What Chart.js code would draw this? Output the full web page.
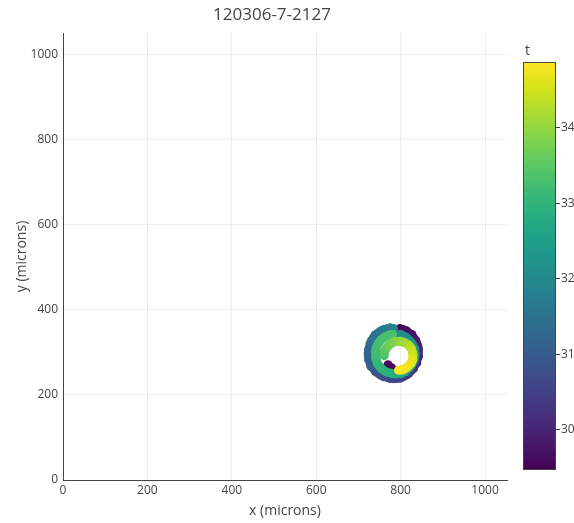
<!DOCTYPE html>
<html>
<head>
<meta charset="utf-8">
<script src="https://cdn.jsdelivr.net/npm/chart.js@4.4.0/dist/chart.umd.min.js"></script>
<style>
  html, body { margin: 0; padding: 0; background: #fff; }
</style>
</head>
<body>
<canvas id="chart" width="574" height="523"></canvas>
<script>
const titleText = '120306-7-2127';

// cell track: x, y in microns, t = time
const xs = [
  774, 779, 770,
  798.5, 806, 813.5, 819.5, 826.8, 830.6, 835.8, 838.4, 841, 842.5, 842, 842.5,
  839, 838.4, 833.2, 830.6, 824.7, 819.5, 813, 806, 798.8, 790.9, 783, 775.1,
  767.7, 760, 753, 746.5, 739.9, 735.4, 729.3, 727.6, 724.1, 723.5, 723, 723.5,
  726, 727.6, 731, 735.4, 739.9, 746.5, 753, 760, 767.7, 775.1, 783,
  787, 793.2, 799.4, 805, 810.5, 815.6, 819.5, 824.3, 827.7, 830.4, 833.4, 833.6,
  835, 833.6, 832.4, 830.4, 826.8, 824.3, 820.2, 815.6, 811, 805, 799.4, 793.2,
  787, 780.8, 775.1, 769, 763.5, 758.4, 753.1, 749.7, 745.4, 743.6, 741.6, 740.4, 741,
  740.4, 741.6, 743.6, 746.3, 749.7, 753.8, 758.4, 763.5, 769, 774.8, 780.8,
  761, 761.3, 761.2, 763.6, 765.6, 768, 771.7, 774.3, 778, 782, 785.9, 790.6,
  795, 799.4, 803.5, 808, 812, 815.7, 819.7, 822, 825.3, 826.4, 827.8, 828.7,
  829, 828.7, 828.8, 826.4, 825.3, 822, 819, 815.7, 812, 808, 804.1, 799.4, 795
];
const ys = [
  266, 263, 271,
  356, 353.4, 350.8, 345.6, 341.8, 334.5, 328.5, 321, 313.5, 305.9, 298, 290.1,
  283, 275, 269, 261.5, 256.3, 250.4, 246, 242.6, 239.1, 238.5, 238, 238.5,
  241, 242.6, 246, 250.4, 254.9, 261.5, 267, 275, 282.2, 290.1, 298, 305.9,
  313.3, 321, 328, 334.5, 341.1, 345.6, 350, 353.4, 355, 357.5, 356,
  343, 342.6, 342.4, 339.4, 336.7, 333.3, 328.5, 324.6, 319.5, 314, 308.4, 302.2,
  296, 289.8, 283.8, 278, 273, 267.4, 262.8, 258.7, 254.4, 252.6, 249.6, 249.4,
  249, 249.4, 251.6, 252.6, 255.3, 258.7, 262.1, 267.4, 272, 278, 283.8, 289.8, 296,
  302.2, 308.2, 314, 319.5, 324.6, 329.2, 333.3, 336.7, 339.4, 341.4, 342.6,
  292, 296.4, 301.1, 305, 309, 312.7, 315.3, 319, 321.4, 323.4, 325.8, 325.7,
  326, 325.7, 323.9, 323.4, 321.4, 319, 316.7, 312.7, 309.5, 305, 300.8, 296.4,
  292, 287.6, 282.9, 279, 274.5, 271.3, 268, 265, 262.6, 260.6, 258.2, 258.3, 258
];
const ts = [
  29.46, 29.55, 29.6,
  29.5, 29.55, 29.6, 29.65, 29.7, 29.75, 29.8, 29.85, 29.9, 29.95, 30.0, 30.05,
  30.1, 30.15, 30.2, 30.25, 30.3, 30.35, 30.4, 30.45, 30.5, 30.55, 30.6, 30.65,
  30.7, 30.75, 30.8, 30.85, 30.9, 30.95, 31.0, 31.05, 31.1, 31.15, 31.2, 31.25,
  31.3, 31.35, 31.4, 31.45, 31.5, 31.55, 31.6, 31.65, 31.7, 31.75, 31.8,
  31.9, 31.95, 32.0, 32.02, 32.05, 32.08, 32.1, 32.15, 32.2, 32.25, 32.3, 32.32,
  32.35, 32.38, 32.4, 32.45, 32.5, 32.52, 32.55, 32.58, 32.6, 32.65, 32.7, 32.72,
  32.75, 32.78, 32.8, 32.85, 32.9, 32.92, 32.95, 32.98, 33.0, 33.05, 33.1, 33.15, 33.2,
  33.21, 33.22, 33.23, 33.24, 33.25, 33.26, 33.27, 33.28, 33.285, 33.29, 33.295,
  33.3, 33.35, 33.4, 33.45, 33.5, 33.55, 33.6, 33.65, 33.7, 33.75, 33.8, 33.85,
  33.9, 33.95, 34.0, 34.05, 34.1, 34.15, 34.2, 34.25, 34.3, 34.35, 34.4, 34.45,
  34.5, 34.55, 34.6, 34.62, 34.65, 34.68, 34.7, 34.72, 34.75, 34.78, 34.8, 34.83, 34.86
];
const colorbarTicks = [30, 31, 32, 33, 34];

const viridis = [
  [0, '#440154'], [0.0627, '#48186a'], [0.1255, '#472d7b'], [0.1882, '#424086'],
  [0.2510, '#3b528b'], [0.3137, '#33638d'], [0.3765, '#2c728e'], [0.4392, '#26828e'],
  [0.5020, '#21918c'], [0.5647, '#1fa088'], [0.6275, '#28ae80'], [0.6902, '#3fbc73'],
  [0.7529, '#5ec962'], [0.8157, '#84d44b'], [0.8784, '#addc30'], [0.9412, '#d8e219'],
  [1, '#fde725']
];

const tMin = Math.min(...ts);
const tMax = Math.max(...ts);

function hexRgb(h) {
  return [parseInt(h.slice(1, 3), 16), parseInt(h.slice(3, 5), 16), parseInt(h.slice(5, 7), 16)];
}
function colorFor(t) {
  const f = Math.max(0, Math.min(1, (t - tMin) / (tMax - tMin)));
  for (let i = 1; i < viridis.length; i++) {
    if (f <= viridis[i][0]) {
      const a = viridis[i - 1], b = viridis[i];
      const k = (f - a[0]) / (b[0] - a[0]);
      const ca = hexRgb(a[1]), cb = hexRgb(b[1]);
      const c = ca.map((v, j) => Math.round(v + (cb[j] - v) * k));
      return `rgb(${c[0]},${c[1]},${c[2]})`;
    }
  }
  return viridis[viridis.length - 1][1];
}

const FONT = '"Open Sans", Verdana, Arial, sans-serif';
const GREY = '#444';

// title + colorbar
const extras = {
  id: 'extras',
  afterDraw(chart) {
    const ctx = chart.ctx;
    ctx.save();
    ctx.fillStyle = GREY;
    ctx.font = `17px ${FONT}`;
    ctx.textAlign = 'center';
    ctx.textBaseline = 'middle';
    ctx.fillText(titleText, 272, 15);

    const bx = 523, bw = 33, by = 62, bh = 408;
    const grad = ctx.createLinearGradient(0, by + bh, 0, by);
    viridis.forEach(s => grad.addColorStop(s[0], s[1]));
    ctx.fillStyle = grad;
    ctx.fillRect(bx, by, bw, bh);
    ctx.strokeStyle = GREY;
    ctx.lineWidth = 1;
    ctx.strokeRect(bx + 0.5, by + 0.5, bw - 1, bh - 1);

    ctx.fillStyle = GREY;
    ctx.font = `12px ${FONT}`;
    ctx.textAlign = 'left';
    colorbarTicks.forEach(v => {
      const y = Math.round(by + bh - (v - tMin) / (tMax - tMin) * bh) + 0.5;
      ctx.beginPath();
      ctx.moveTo(bx + bw, y);
      ctx.lineTo(bx + bw + 4, y);
      ctx.stroke();
      ctx.fillText(String(v), bx + bw + 5, y);
    });
    ctx.font = `14px ${FONT}`;
    ctx.fillText('t', 525, 51);
    ctx.restore();
  }
};

new Chart(document.getElementById('chart'), {
  type: 'scatter',
  data: {
    datasets: [{
      data: xs.map((x, i) => ({ x: x, y: ys[i] })),
      pointBackgroundColor: ts.map(colorFor),
      pointBorderWidth: 0,
      pointRadius: 4.5
    }]
  },
  options: {
    responsive: false,
    animation: false,
    layout: { padding: { top: 33, right: 67, left: 0, bottom: 0 } },
    plugins: {
      legend: { display: false },
      tooltip: { enabled: false },
      title: { display: false }
    },
    scales: {
      x: {
        type: 'linear',
        min: 0,
        max: 1052,
        afterFit(s) { s.height = 43; },
        ticks: { stepSize: 200, includeBounds: false, padding: 3, maxRotation: 0, color: GREY, font: { family: FONT, size: 12 }, callback: v => String(v) },
        grid: { color: '#eee', drawTicks: false },
        border: { color: GREY, width: 1 },
        title: { display: true, text: 'x (microns)', color: GREY, font: { family: FONT, size: 14 }, padding: { top: 0, bottom: 4 } }
      },
      y: {
        type: 'linear',
        min: 0,
        max: 1050,
        afterFit(s) { s.width = 63; },
        ticks: { stepSize: 200, includeBounds: false, padding: 5, color: GREY, font: { family: FONT, size: 12 }, callback: v => String(v) },
        grid: { color: '#eee', drawTicks: false },
        border: { color: GREY, width: 1 },
        title: { display: true, text: 'y (microns)', color: GREY, font: { family: FONT, size: 14 }, padding: { top: 14, bottom: 0 } }
      }
    }
  },
  plugins: [extras]
});
</script>
</body>
</html>
